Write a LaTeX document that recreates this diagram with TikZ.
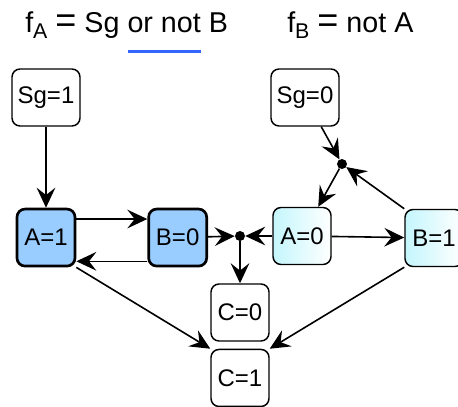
\documentclass[tikz,border=0pt]{standalone}
\usepackage{fontspec}
\setmainfont{Liberation Sans}
\usetikzlibrary{arrows.meta,positioning}
\definecolor{gnblue}{RGB}{153,204,255}
\definecolor{gncyan}{RGB}{196,246,252}
\definecolor{gnline}{RGB}{51,102,255}
\tikzset{
  gnnode/.style={draw=black, rounded corners=6pt, align=center,
    minimum width=43.5pt, minimum height=42.75pt, inner sep=1pt,
    font=\fontsize{18}{20}\selectfont, line width=1.1pt},
  gnon/.style={gnnode, fill=gnblue, line width=2pt},
  gnoff/.style={gnnode, left color=gncyan, right color=white},
  gnarr/.style={-{Stealth[length=15pt, width=14pt, inset=5.5pt]}, line width=1.2pt},
  gndot/.style={circle, fill=black, inner sep=0pt, minimum size=7.5pt}
}
\newcommand{\lowsub}[1]{\raisebox{-0.45ex}{\fontsize{16}{16}\selectfont #1}}
\newcommand{\bigeq}{\hspace{6pt}{\fontsize{27}{27}\selectfont=}\hspace{6pt}}
\newcommand{\blueul}[1]{\setbox0\hbox{#1}\rlap{\textcolor{gnline}{\rule[-15.75pt]{\wd0}{2.25pt}}}#1}

\begin{document}
\begin{tikzpicture}[x=0.75pt, y=-0.75pt]
\useasboundingbox (0,0) rectangle (458,407);
% update rules
\node[anchor=base west, inner sep=0pt, font=\fontsize{21.5}{24}\selectfont] (fa) at (25,32) {f\lowsub{A}\bigeq Sg \blueul{or not} B};
\node[anchor=base west, inner sep=0pt, font=\fontsize{21.5}{24}\selectfont] (fb) at (287,32) {f\lowsub{B}\bigeq not A};
% left state
\node[gnnode, minimum width=51pt] (sg1) at (46,97.5) {Sg=1};
\node[gnon, below=60.75pt of sg1] (a1) {A=1};
\node[gnon, right=53.25pt of a1] (b0) {B=0};
% right state
\node[gnnode, minimum width=51pt] (sg0) at (305,97.5) {Sg=0};
\node[gnoff] (a0) at (302,236) {A=0};
\node[gnoff] (b1) at (434,238) {B=1};
\node[gndot] (jtop) at (342,164) {};
\node[gndot] (jmid) at (240,236) {};
% outputs
\node[gnnode] (c0) at (240,312.5) {C=0};
\node[gnnode, below=5.25pt of c0] (c1) {C=1};
\draw[gnarr] (sg1) -- (a1);
\draw[gnarr] ([yshift=13.9pt]a1.east) -- ([yshift=13.9pt]b0.west);
\draw[gnarr] ([yshift=-17.8pt]b0.west) -- ([yshift=-17.8pt]a1.east);
\draw[gnarr] (b0) -- (jmid);
\draw[gnarr] (a0) -- (jmid);
\draw[gnarr] (jmid) -- (c0);
\draw[gnarr] (a0) -- (b1);
\draw[gnarr] (sg0) -- (jtop);
\draw[gnarr] (b1.north west) -- (jtop);
\draw[gnarr] (jtop) -- (a0);
\draw[gnarr] (a1.south east) -- (c1.north west);
\draw[gnarr] (b1.south west) -- (c1.north east);
\end{tikzpicture}
\end{document}
